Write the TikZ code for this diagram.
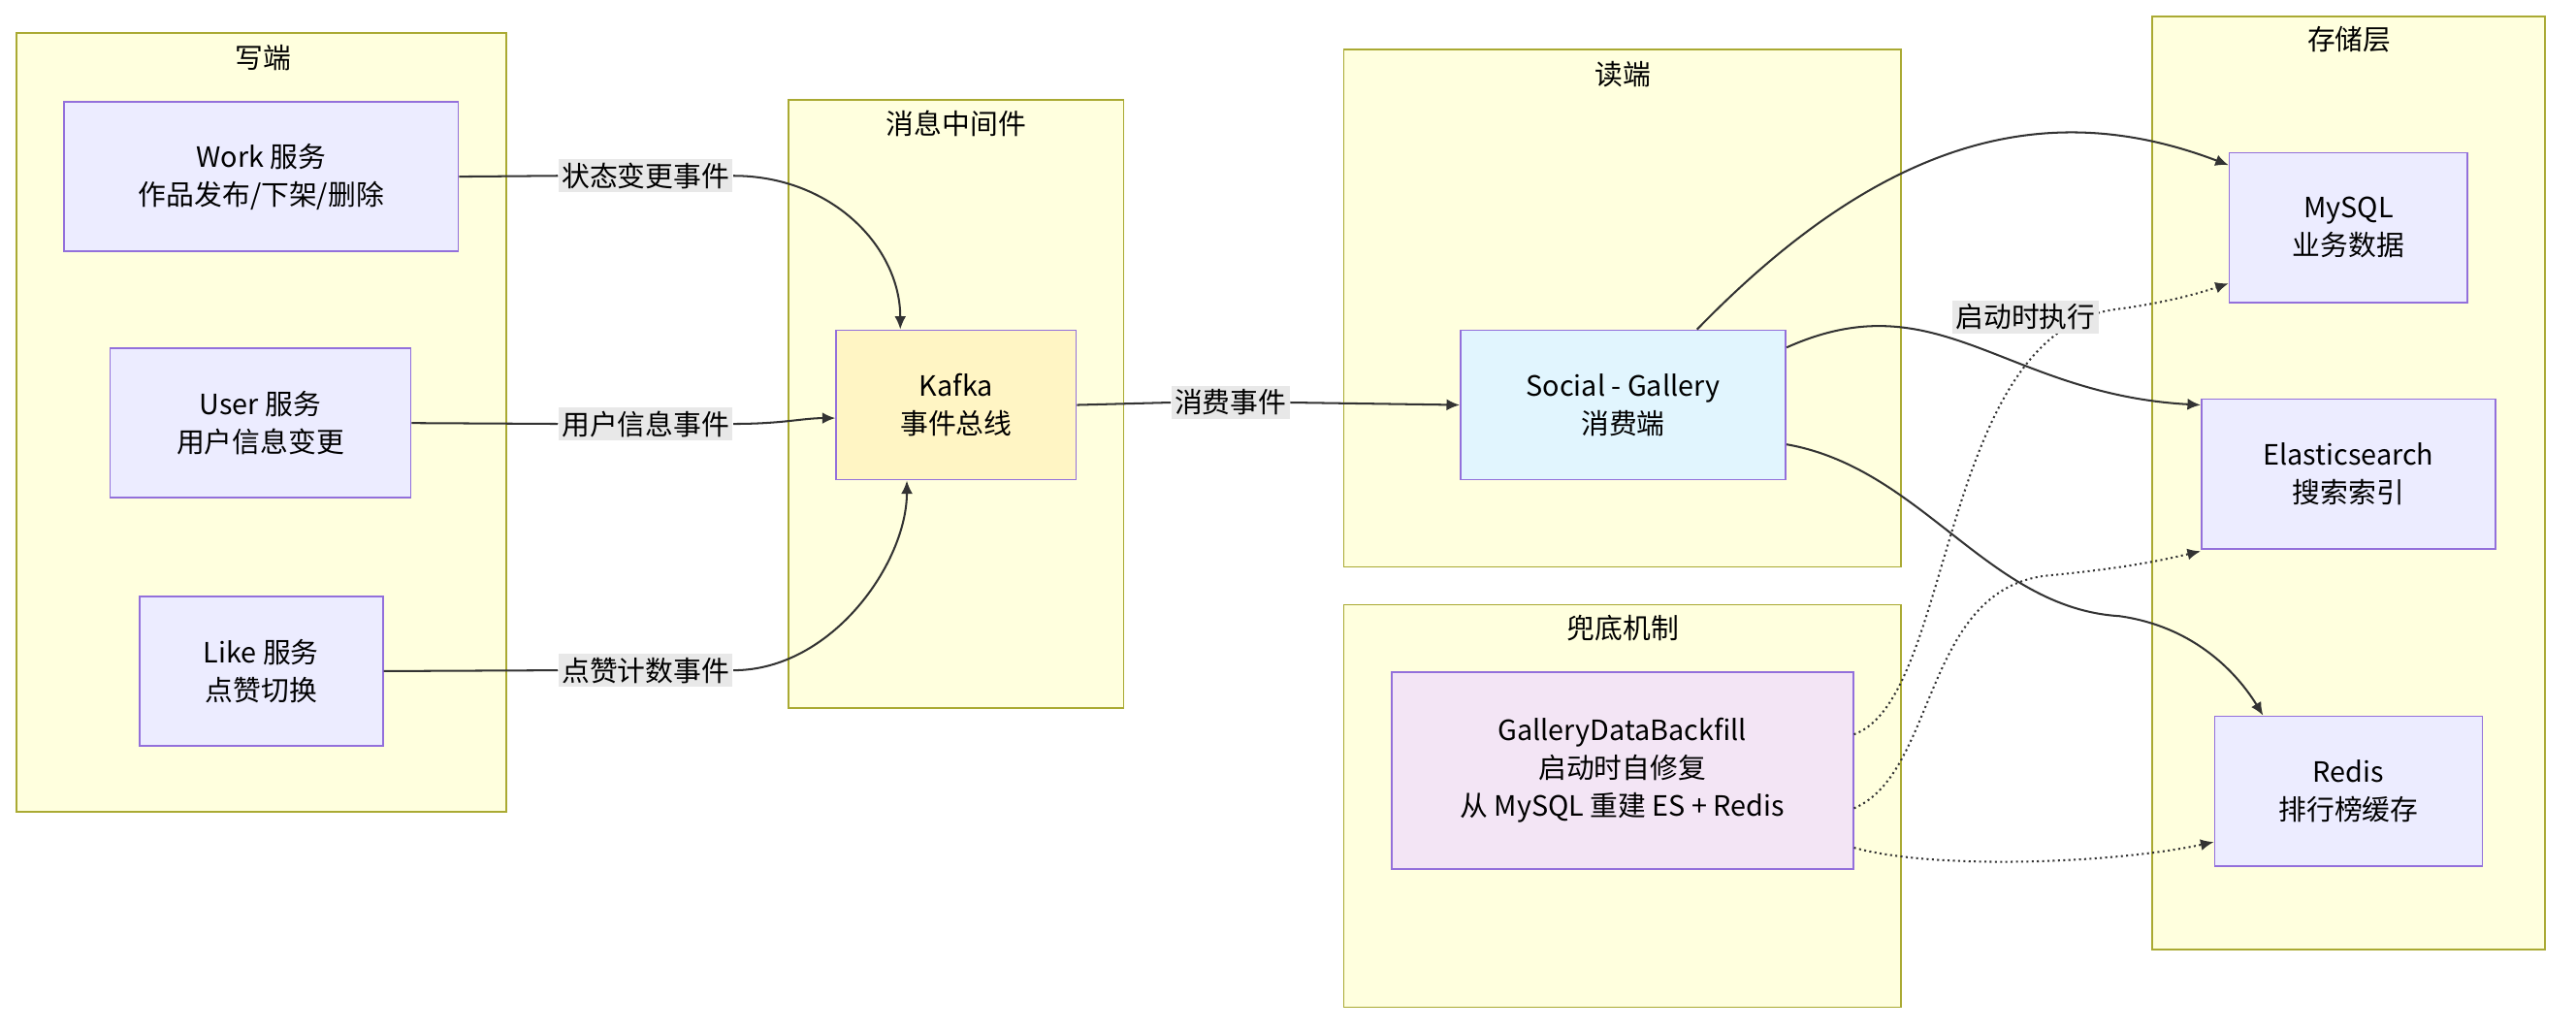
\documentclass[tikz,border=0pt]{standalone}
\usepackage{fontspec}
\setmainfont{Noto Sans CJK SC}
\usetikzlibrary{arrows.meta,calc}
\definecolor{nodefill}{HTML}{ECECFF}
\definecolor{nodeline}{HTML}{9370DB}
\definecolor{grpfill}{HTML}{FFFFDE}
\definecolor{grpline}{HTML}{AAAA33}
\definecolor{kafkafill}{HTML}{FFF5C4}
\definecolor{socialfill}{HTML}{E1F5FE}
\definecolor{backfill}{HTML}{F3E5F5}
\definecolor{lblfill}{HTML}{E8E8E8}
\begin{document}
\begin{tikzpicture}[
  x=0.5pt, y=-0.5pt,
  font=\fontsize{8.5}{11.5}\selectfont,
  >=Latex,
  group/.style={draw=grpline, fill=grpfill, line width=0.5pt},
  box/.style={draw=nodeline, fill=nodefill, line width=0.5pt, align=center, inner sep=0pt},
  lbl/.style={fill=lblfill, inner sep=1pt},
  arrow/.style={line width=0.6pt, draw=black!80, -{Latex[length=4pt,width=3.5pt]}},
  dotarrow/.style={arrow, densely dotted}
]
\useasboundingbox (0,0) rectangle (1568,627);
% Groups
\draw[group] (10,20) rectangle (308,494);
\node at (160,35) {写端};
\draw[group] (480,61) rectangle (684,431);
\node at (582,75) {消息中间件};
\draw[group] (818,30) rectangle (1157,345);
\node at (988,45) {读端};
\draw[group] (818,368) rectangle (1157,613);
\node at (988,382) {兜底机制};
\draw[group] (1310,10) rectangle (1549,578);
\node at (1430,24) {存储层};
% Write side
\node[box, minimum width=120pt, minimum height=45.5pt] (work) at (159,107.5) {Work 服务\\作品发布/下架/删除};
\node[box, minimum width=91.5pt, minimum height=45.5pt] (user) at (158.5,257.5) {User 服务\\用户信息变更};
\node[box, minimum width=74pt, minimum height=45.5pt] (like) at (159,408.5) {Like 服务\\点赞切换};
% Broker
\node[box, fill=kafkafill, minimum width=73pt, minimum height=45.5pt] (kafka) at (582,246.5) {Kafka\\事件总线};
% Read side
\node[box, fill=socialfill, minimum width=99pt, minimum height=45.5pt] (social) at (988,246.5) {Social - Gallery\\消费端};
\node[box, fill=backfill, minimum width=140.5pt, minimum height=60pt] (backfill) at (987.5,469) {GalleryDataBackfill\\启动时自修复\\从 MySQL 重建 ES + Redis};
% Storage
\node[box, minimum width=72.5pt, minimum height=45.5pt] (mysql) at (1429.5,138.5) {MySQL\\业务数据};
\node[box, minimum width=89.5pt, minimum height=45.5pt] (es) at (1429.5,288.5) {Elasticsearch\\搜索索引};
\node[box, minimum width=81.5pt, minimum height=45.5pt] (redis) at (1429.5,481.5) {Redis\\排行榜缓存};
% Labels
\node[lbl] (l1) at (393,107) {状态变更事件};
\node[lbl] (l2) at (393,258) {用户信息事件};
\node[lbl] (l3) at (393,408) {点赞计数事件};
\node[lbl] (l4) at (749,245) {消费事件};
% Events into Kafka
\draw[arrow] (work.east) -- (l1.west) (l1.east) .. controls +(60,0) and +(0,-50) .. ($(kafka.north)+(-34,0)$);
\draw[arrow] (user.east) -- (l2.west) (l2.east) .. controls +(30,0) and +(-20,0) .. ($(kafka.west)+(0,8)$);
\draw[arrow] (like.east) -- (l3.west) (l3.east) .. controls +(60,0) and +(0,50) .. ($(kafka.south)+(-30,0)$);
\draw[arrow] (kafka.east) -- (l4.west) (l4.east) -- (social.west);
% Consumer writes
\draw[arrow] ($(social.north)+(45,0)$) .. controls (1150,80) and (1250,60) .. ($(mysql.west)+(0,-38)$);
\draw[arrow] ($(social.east)+(0,-35)$) .. controls (1180,170) and (1220,240) .. ($(es.west)+(0,-42)$);
\draw[arrow] ($(social.east)+(0,24)$) .. controls (1170,285) and (1210,370) .. (1290,375) .. controls (1340,382) and (1365,415) .. ($(redis.north)+(-52,0)$);
% Backfill
\draw[dotarrow] ($(backfill.east)+(0,-22)$) .. controls (1190,425) and (1180,200) .. (1290,188) .. controls (1320,184) and (1340,178) .. ($(mysql.west)+(0,34)$);
\draw[dotarrow] ($(backfill.east)+(0,23)$) .. controls (1180,470) and (1170,355) .. (1250,350) .. controls (1300,345) and (1320,340) .. ($(es.west)+(0,47)$);
\draw[dotarrow] ($(backfill.east)+(0,47)$) .. controls (1180,530) and (1290,525) .. ($(redis.west)+(0,31)$);
\node[lbl] (l5) at (1233,193) {启动时执行};
\end{tikzpicture}
\end{document}
